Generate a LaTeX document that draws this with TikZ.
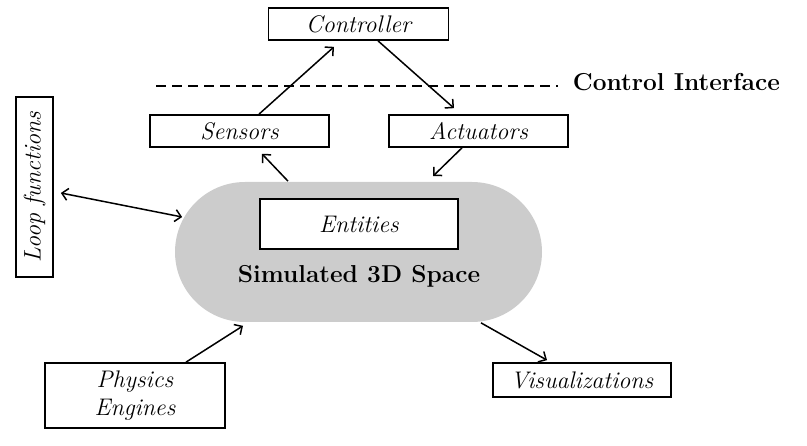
\documentclass[tikz,border=0pt]{standalone}
\usetikzlibrary{calc,arrows.meta}

\tikzset{every picture/.style={line width=1.7pt}}
\tikzset{
  blockbox/.style={draw, fill=white, font=\fontsize{24}{28}\selectfont\itshape, inner sep=0pt, align=center},
  conn/.style={-{Straight Barb[length=6pt,width=12pt]}, line width=1.5pt},
}

\begin{document}
\begin{tikzpicture}[x=1pt,y=1pt,yscale=-1,xscale=1]
	\useasboundingbox (0,0) rectangle (807,446);

	%Shape: Rounded space
	\node (space) [fill={rgb, 255:red, 204; green, 204; blue, 204}, rounded corners=70pt, minimum width=367pt, minimum height=140pt, inner sep=0pt] at (358.5,252) {};
	% Text Node
	\node (spacelabel) [font=\fontsize{24.5}{28}\selectfont\bfseries] at (359,276) {Simulated 3D Space};

	%Boxes
	\node (controller) [blockbox, minimum width=180pt, minimum height=32pt] at (358.5,24) {Controller};
	\node (sensors) [blockbox, minimum width=179pt, minimum height=32pt] at (239.5,131) {Sensors};
	\node (actuators) [blockbox, minimum width=179pt, minimum height=32pt] at (478.5,131) {Actuators};
	\node (entities) [blockbox, minimum width=198pt, minimum height=50pt] at (359,224) {Entities};
	\node (loopfn) [blockbox, rotate=90, minimum width=180pt, minimum height=37pt] at (34.5,187) {Loop functions};
	\node (physics) [blockbox, minimum width=180pt, minimum height=65pt] at (135,395.5) {Physics\\Engines};
	\node (visual) [blockbox, minimum width=178pt, minimum height=34pt] at (582,380) {Visualizations};

	%Dashed interface line
	\coordinate (dashL) at (156,86);
	\coordinate (dashR) at (558,86);
	\draw [dash pattern=on 10pt off 6pt] (dashL) -- (dashR);
	% Text Node
	\node (iface) [anchor=west, font=\fontsize{24.5}{28}\selectfont\bfseries, inner sep=0pt] at (572,82) {Control Interface};

	%Connectors
	\draw [conn] ($(sensors.north)+(19.5,0)$) -- ($(controller.south)+(-24.5,6)$);
	\draw [conn] ($(controller.south)+(19.5,0)$) -- ($(actuators.north)+(-24.5,-6)$);
	\draw [conn] ($(space.north)+(-70.5,0)$) -- ($(sensors.south)+(22.5,6)$);
	\draw [conn] ($(actuators.south)+(-16.5,0)$) -- ($(space.north)+(74.5,-5)$);
	\draw [conn, {Straight Barb[length=6pt,width=12pt]}-{Straight Barb[length=6pt,width=12pt]}] ($(loopfn.south)+(7,6)$) -- ($(space.west)+(8,-35)$);
	\draw [conn] ($(physics.north)+(51,0)$) -- ($(space.south)+(-115.5,3)$);
	\draw [conn] ($(space.south)+(122.5,0)$) -- ($(visual.north)+(-35,-2)$);

\end{tikzpicture}
\end{document}
